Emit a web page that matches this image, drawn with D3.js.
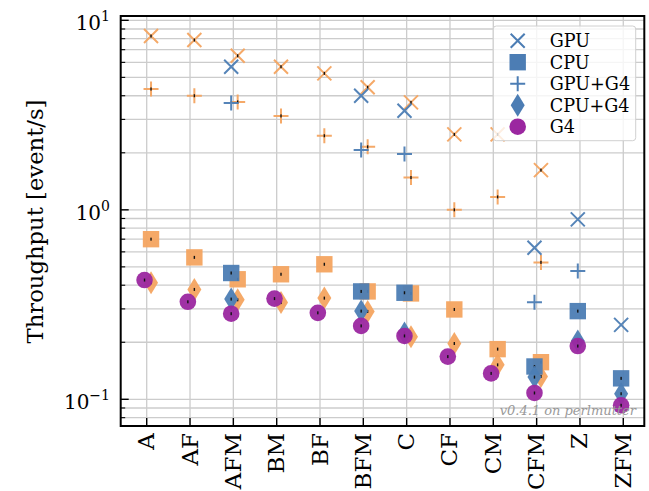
<!DOCTYPE html>
<html>
	<head>
		<title>Throughput</title>
		<script src="https://d3js.org/d3.v7.min.js"></script>
		<style>
			body { margin: 0; background: #fff; }
			text { font-family: "DejaVu Serif", serif; }
		</style>
	</head>
	<body>
		<div class="chart"></div>
		<script>
			// categories and tick labels
			var categories = ["A", "AF", "AFM", "BM", "BF", "BFM", "C", "CF", "CM", "CFM", "Z", "ZFM"];
			var seriesNames = ["GPU", "CPU", "GPU+G4", "CPU+G4", "G4"];
			var yTickExps = [-1, 0, 1];

			// throughput [event/s], null = not measured
			var blueGPU    = [null, null, 5.69, null, null, 4.0, 3.33, null, null, 0.631, 0.89, 0.247];
			var blueCPU    = [null, null, 0.464, null, null, 0.371, 0.365, null, null, 0.149, 0.292, 0.129];
			var blueGPUG4  = [null, null, 3.66, null, null, 2.07, 1.97, null, null, 0.325, 0.475, null];
			var blueCPUG4  = [null, null, 0.338, null, null, 0.292, 0.224, null, null, 0.131, 0.203, 0.107];
			var orangeGPU   = [8.26, 7.87, 6.50, 5.69, 5.25, 4.43, 3.69, 2.50, 2.50, 1.62, null, null];
			var orangeCPU   = [0.70, 0.561, 0.430, 0.457, 0.516, 0.371, 0.362, 0.298, 0.184, 0.157, null, null];
			var orangeGPUG4 = [4.34, 4.0, 3.71, 3.13, 2.46, 2.15, 1.48, 1.0, 1.17, 0.528, null, null];
			var orangeCPUG4 = [0.412, 0.380, 0.335, 0.324, 0.342, 0.291, 0.214, 0.197, 0.152, 0.132, null, null];
			var g4Only      = [0.426, 0.327, 0.283, 0.340, 0.286, 0.244, 0.216, 0.168, 0.137, 0.108, 0.191, 0.093];

			var blue = "#4c7db4", orange = "#f4a460", purple = "#9b27a0";
			var width = 649, height = 491;
			var pLeft = 120.7, pRight = 644.3, pTop = 16, pBottom = 426;

			var x = d3.scaleLinear().domain([-0.6, 11.485]).range([pLeft, pRight]);
			var y = d3.scaleLog().domain([0.0723, 10.54]).range([pBottom, pTop]);

			var svg = d3.select(".chart").append("svg")
				.attr("width", width)
				.attr("height", height);

			// grid
			var grid = svg.append("g").attr("class", "grid")
				.attr("stroke", "#cccccc").attr("stroke-width", 1.3);
			grid.selectAll("line.v").data(categories).enter().append("line")
				.attr("x1", function(d, i) { return x(i); })
				.attr("x2", function(d, i) { return x(i); })
				.attr("y1", pTop).attr("y2", pBottom);

			var logTicks = [];
			for (var e = -2; e <= 1; e++) {
				for (var m = 1; m < 10; m++) {
					var v = m * Math.pow(10, e);
					if (v >= y.domain()[0] && v <= y.domain()[1]) logTicks.push({ v: v, major: m === 1 });
				}
			}
			grid.selectAll("line.h").data(logTicks).enter().append("line")
				.attr("x1", pLeft).attr("x2", pRight)
				.attr("y1", function(d) { return y(d.v); })
				.attr("y2", function(d) { return y(d.v); });

			// markers
			function markerPath(kind) {
				if (kind === "x") return "M-7,-7L7,7M-7,7L7,-7";
				if (kind === "+") return "M-7.5,0H7.5M0,-7.5V7.5";
				if (kind === "s") return "M-8.2,-8.2H8.2V8.2H-8.2Z";
				if (kind === "d") return "M0,-11.5L7,0L0,11.5L-7,0Z";
				return d3.symbol().type(d3.symbolCircle).size(Math.PI * 8.3 * 8.3)();
			}

			function drawSeries(values, kind, color, offset, errbar) {
				var pts = [];
				values.forEach(function(v, i) { if (v !== null) pts.push({ i: i, v: v }); });
				var g = svg.append("g");
				var line = kind === "x" || kind === "+";
				g.selectAll("path").data(pts).enter().append("path")
					.attr("transform", function(d) { return "translate(" + x(d.i + offset) + "," + y(d.v) + ")"; })
					.attr("d", markerPath(kind))
					.attr("fill", line ? "none" : color)
					.attr("stroke", line ? color : "none")
					.attr("stroke-width", line ? 2 : 0)
					.attr("opacity", 0.95);
				if (errbar) {
					g.selectAll("rect").data(pts).enter().append("rect")
						.attr("x", function(d) { return x(d.i + offset) - 0.7; })
						.attr("y", function(d) { return y(d.v) - 1.5; })
						.attr("width", 1.4).attr("height", 3)
						.attr("fill", "#111");
				}
			}

			drawSeries(orangeGPU, "x", orange, 0.1, true);
			drawSeries(orangeCPU, "s", orange, 0.1, true);
			drawSeries(orangeGPUG4, "+", orange, 0.1, true);
			drawSeries(orangeCPUG4, "d", orange, 0.1, true);
			drawSeries(blueGPU, "x", blue, -0.05, false);
			drawSeries(blueCPU, "s", blue, -0.05, true);
			drawSeries(blueGPUG4, "+", blue, -0.05, false);
			drawSeries(blueCPUG4, "d", blue, -0.05, true);
			drawSeries(g4Only, "o", purple, -0.05, true);

			// watermark
			svg.append("text")
				.attr("x", 636).attr("y", 415)
				.attr("text-anchor", "end")
				.attr("font-style", "italic")
				.attr("font-size", 13)
				.attr("fill", "#999")
				.text("v0.4.1 on perlmutter");

			// spines and ticks
			var axes = svg.append("g").attr("stroke", "#000");
			axes.selectAll("line.ty").data(logTicks).enter().append("line")
				.attr("x1", pLeft).attr("x2", function(d) { return pLeft + (d.major ? 8 : 4.5); })
				.attr("y1", function(d) { return y(d.v); })
				.attr("y2", function(d) { return y(d.v); })
				.attr("stroke-width", function(d) { return d.major ? 1.4 : 1.1; });
			axes.selectAll("line.tx").data(categories).enter().append("line")
				.attr("x1", function(d, i) { return x(i); })
				.attr("x2", function(d, i) { return x(i); })
				.attr("y1", pBottom).attr("y2", pBottom - 8)
				.attr("stroke-width", 1.4);
			axes.append("rect")
				.attr("x", pLeft).attr("y", pTop)
				.attr("width", pRight - pLeft).attr("height", pBottom - pTop)
				.attr("fill", "none").attr("stroke-width", 2);

			// tick labels
			svg.selectAll("text.xl").data(categories).enter().append("text")
				.attr("transform", function(d, i) { return "translate(" + (x(i) + 7.5) + "," + (pBottom + 7) + ") rotate(-90)"; })
				.attr("text-anchor", "end")
				.attr("font-size", 23)
				.text(function(d) { return d; });

			var yl = svg.selectAll("text.yl").data(yTickExps).enter().append("text")
				.attr("x", 110)
				.attr("y", function(d) { return y(Math.pow(10, d)) + 10; })
				.attr("text-anchor", "end")
				.attr("font-size", 20);
			yl.append("tspan").text("10");
			yl.append("tspan")
				.attr("dy", -9)
				.attr("font-size", 14)
				.text(function(d) { return d < 0 ? "\u2212" + (-d) : d; });

			svg.append("text")
				.attr("transform", "translate(43," + 221.5 + ") rotate(-90)")
				.attr("text-anchor", "middle")
				.attr("font-size", 22.7)
				.text("Throughput [event/s]");

			// legend
			var lg = svg.append("g").attr("class", "legend");
			lg.append("rect")
				.attr("x", 493.3).attr("y", 26)
				.attr("width", 142.4).attr("height", 114.7)
				.attr("rx", 3)
				.attr("fill", "#fff").attr("fill-opacity", 0.8)
				.attr("stroke", "#d0d0d0").attr("stroke-width", 1);
			var kinds = ["x", "s", "+", "d", "o"];
			var rows = lg.selectAll("g.row").data(seriesNames).enter().append("g")
				.attr("transform", function(d, i) { return "translate(517.7," + (40.7 + i * 21.5) + ")"; });
			rows.append("path")
				.attr("d", function(d, i) { return markerPath(kinds[i]); })
				.attr("fill", function(d, i) { return kinds[i] === "x" || kinds[i] === "+" ? "none" : (i === 4 ? purple : blue); })
				.attr("stroke", function(d, i) { return kinds[i] === "x" || kinds[i] === "+" ? blue : "none"; })
				.attr("stroke-width", 2);
			rows.append("text")
				.attr("x", 32).attr("y", 6.5)
				.attr("font-size", 17.6)
				.text(function(d) { return d; });
		</script>
	</body>
</html>
